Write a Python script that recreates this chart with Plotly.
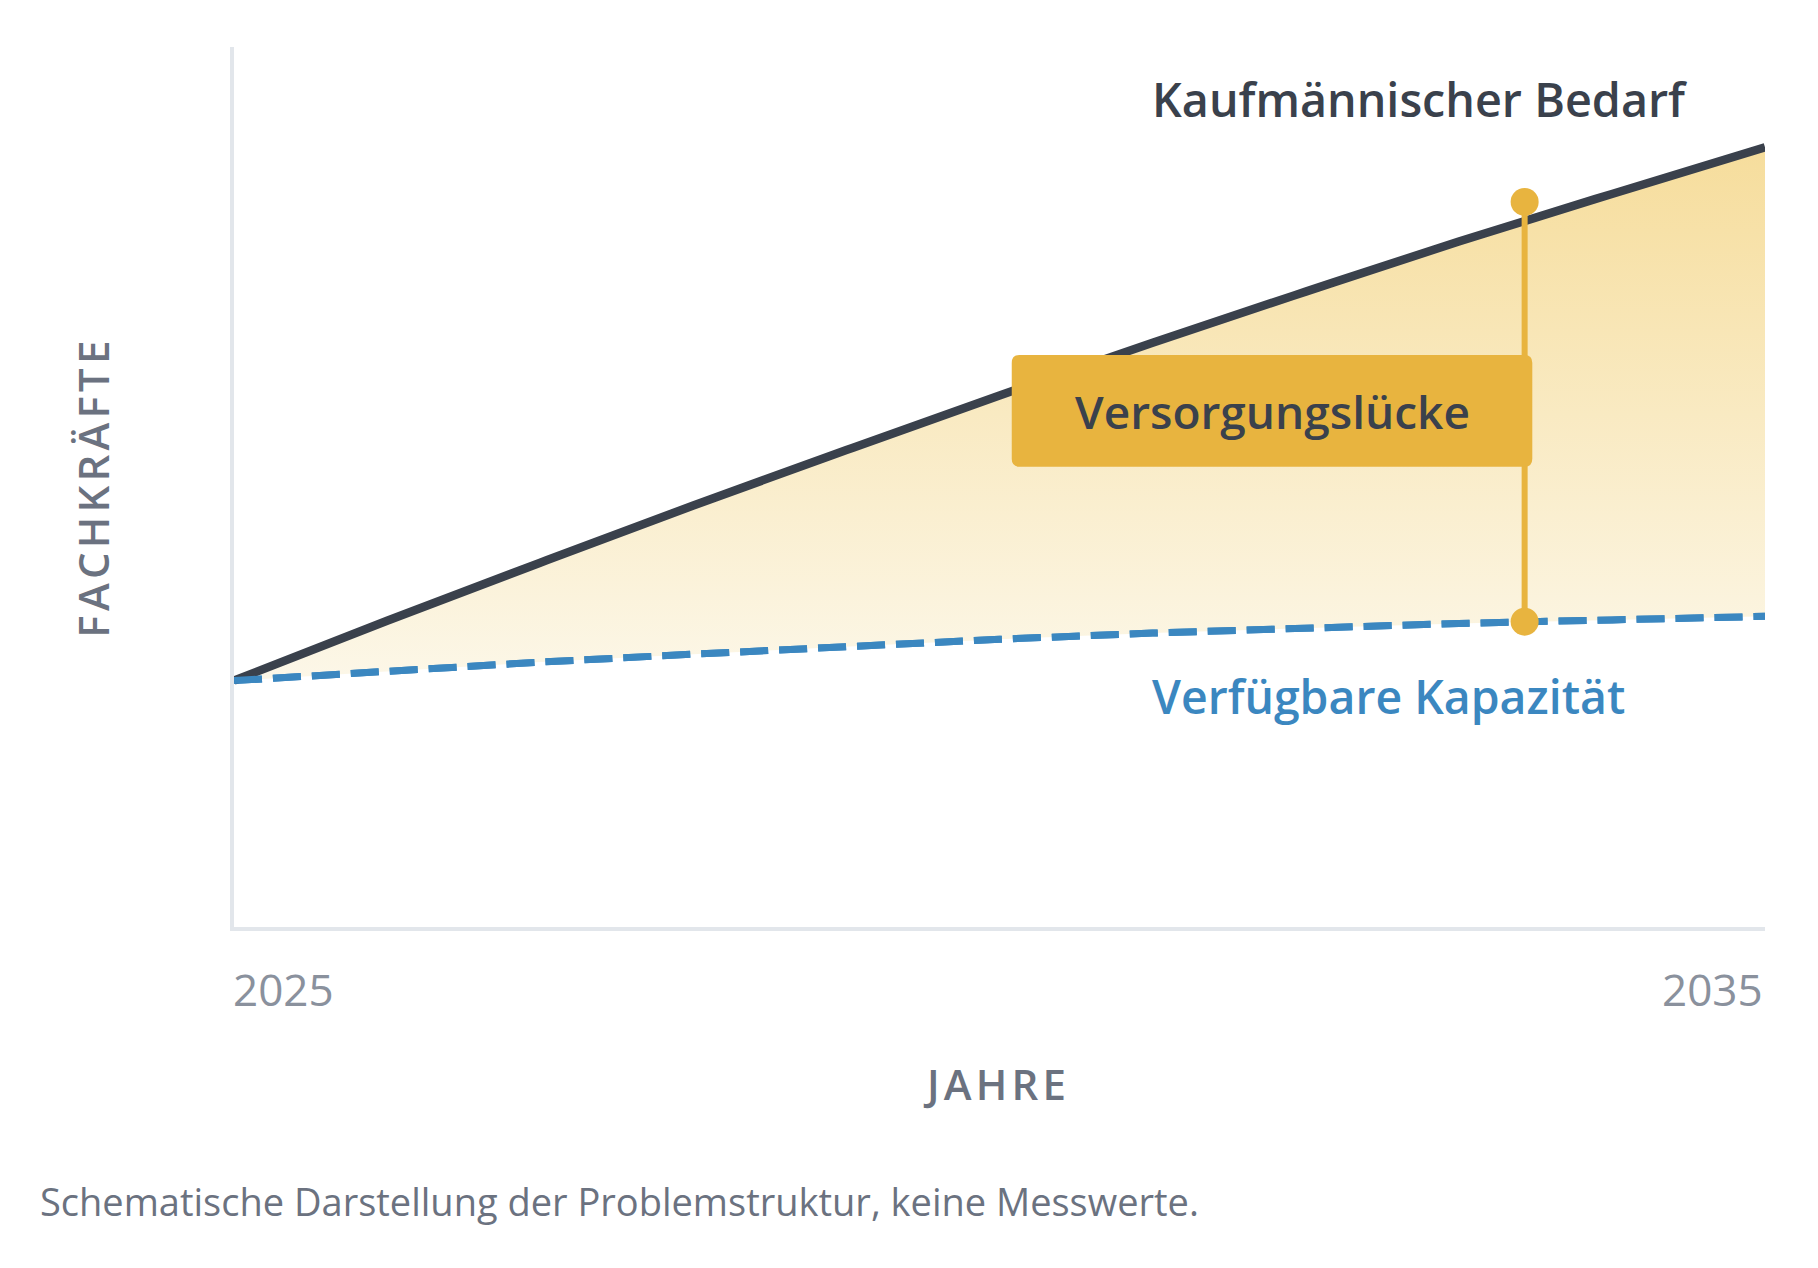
import plotly.graph_objects as go

# schematic values (arbitrary units)
years = [2025, 2026, 2027, 2028, 2029, 2030, 2031, 2032, 2033, 2034, 2035]
demand = [28.0, 34.8, 41.4, 47.9, 54.2, 60.4, 66.4, 72.2, 77.9, 83.3, 88.6]
capacity = [28.0, 29.1, 30.1, 31.0, 31.9, 32.7, 33.4, 34.0, 34.5, 34.9, 35.3]

gap_year = [2033.43, 2033.43]
gap_values = [34.7, 82.4]

tick_years = [2025, 2035]
tick_labels = ["2025", "2035"]

DARK = "#3a414c"
BLUE = "#3b87c0"
GOLD = "#e8b43f"
GREY = "#6b7280"
FONT = "Open Sans"
HS = "\u200a"


def spaced(s):
    return HS.join(s)


fig = go.Figure()

fig.add_trace(go.Scatter(
    x=years, y=capacity, mode="lines",
    line=dict(color=BLUE, width=7, dash="28px,11px"),
    hoverinfo="skip", showlegend=False))

fig.add_trace(go.Scatter(
    x=years, y=demand, mode="lines",
    line=dict(color=DARK, width=8.5, shape="spline"),
    fill="tonexty",
    fillgradient=dict(type="vertical",
                      colorscale=[[0, "#fcf7e8"], [1, "#f6dd9c"]]),
    hoverinfo="skip", showlegend=False))

# redraw dashed line on top of the fill
fig.add_trace(go.Scatter(
    x=years, y=capacity, mode="lines",
    line=dict(color=BLUE, width=7, dash="28px,11px"),
    hoverinfo="skip", showlegend=False))

fig.add_trace(go.Scatter(
    x=gap_year, y=gap_values, mode="lines+markers",
    line=dict(color=GOLD, width=6),
    marker=dict(color=GOLD, size=28),
    cliponaxis=False, hoverinfo="skip", showlegend=False))

# label box with rounded corners
bx0, bx1, by0, by1 = 2030.08, 2033.48, 52.3, 65.0
rx, ry = 0.05, 0.9
box_path = (f"M {bx0+rx},{by0} L {bx1-rx},{by0} Q {bx1},{by0} {bx1},{by0+ry} "
            f"L {bx1},{by1-ry} Q {bx1},{by1} {bx1-rx},{by1} "
            f"L {bx0+rx},{by1} Q {bx0},{by1} {bx0},{by1-ry} "
            f"L {bx0},{by0+ry} Q {bx0},{by0} {bx0+rx},{by0} Z")
fig.add_shape(type="path", path=box_path, xref="x", yref="y",
              fillcolor=GOLD, line=dict(width=0), layer="above")

annotations = [
    dict(x=(bx0 + bx1) / 2, y=(by0 + by1) / 2, xref="x", yref="y",
         text="Versorgungslücke", showarrow=False,
         font=dict(family=FONT, size=46, color=DARK, weight=600)),
    dict(x=2030.98, y=94.1, xref="x", yref="y", xanchor="left",
         text="Kaufmännischer Bedarf", showarrow=False,
         font=dict(family=FONT, size=46.7, color=DARK, weight=600)),
    dict(x=2030.98, y=26.2, xref="x", yref="y", xanchor="left",
         text="Verfügbare Kapazität", showarrow=False,
         font=dict(family=FONT, size=46.4, color=BLUE, weight=600)),
    dict(x=0.497, y=-0.213, xref="paper", yref="paper",
         text=spaced("JAHRE"), showarrow=False,
         font=dict(family=FONT, size=42, color=GREY, weight=600)),
    dict(x=-0.112, y=0.497, xref="paper", yref="paper", textangle=-90,
         text=spaced("FACHKRÄFTE"), showarrow=False,
         font=dict(family=FONT, size=42, color=GREY, weight=600)),
    dict(x=-0.127, y=-0.343, xref="paper", yref="paper", xanchor="left",
         xshift=-2,
         text="Schematische Darstellung der Problemstruktur, keine Messwerte.",
         showarrow=False, font=dict(family=FONT, size=38, color=GREY)),
]
for yr, lab in zip(tick_years, tick_labels):
    first = yr == tick_years[0]
    annotations.append(dict(
        x=yr, y=-0.107, xref="x", yref="paper",
        xanchor="left" if first else "right", xshift=-3 if first else 0,
        text=lab, showarrow=False,
        font=dict(family=FONT, size=44, color="#8a919d")))

fig.update_layout(
    width=1802, height=1252,
    margin=dict(l=226, r=45, t=39, b=333),
    paper_bgcolor="white", plot_bgcolor="white",
    annotations=annotations,
    xaxis=dict(range=[2025, 2035], showgrid=False, zeroline=False,
               showticklabels=False, ticks="",
               showline=True, linecolor="#e2e6eb", linewidth=4),
    yaxis=dict(range=[0, 100], showgrid=False, zeroline=False,
               showticklabels=False, ticks="",
               showline=True, linecolor="#e2e6eb", linewidth=4),
)

fig.write_html("out.html")
